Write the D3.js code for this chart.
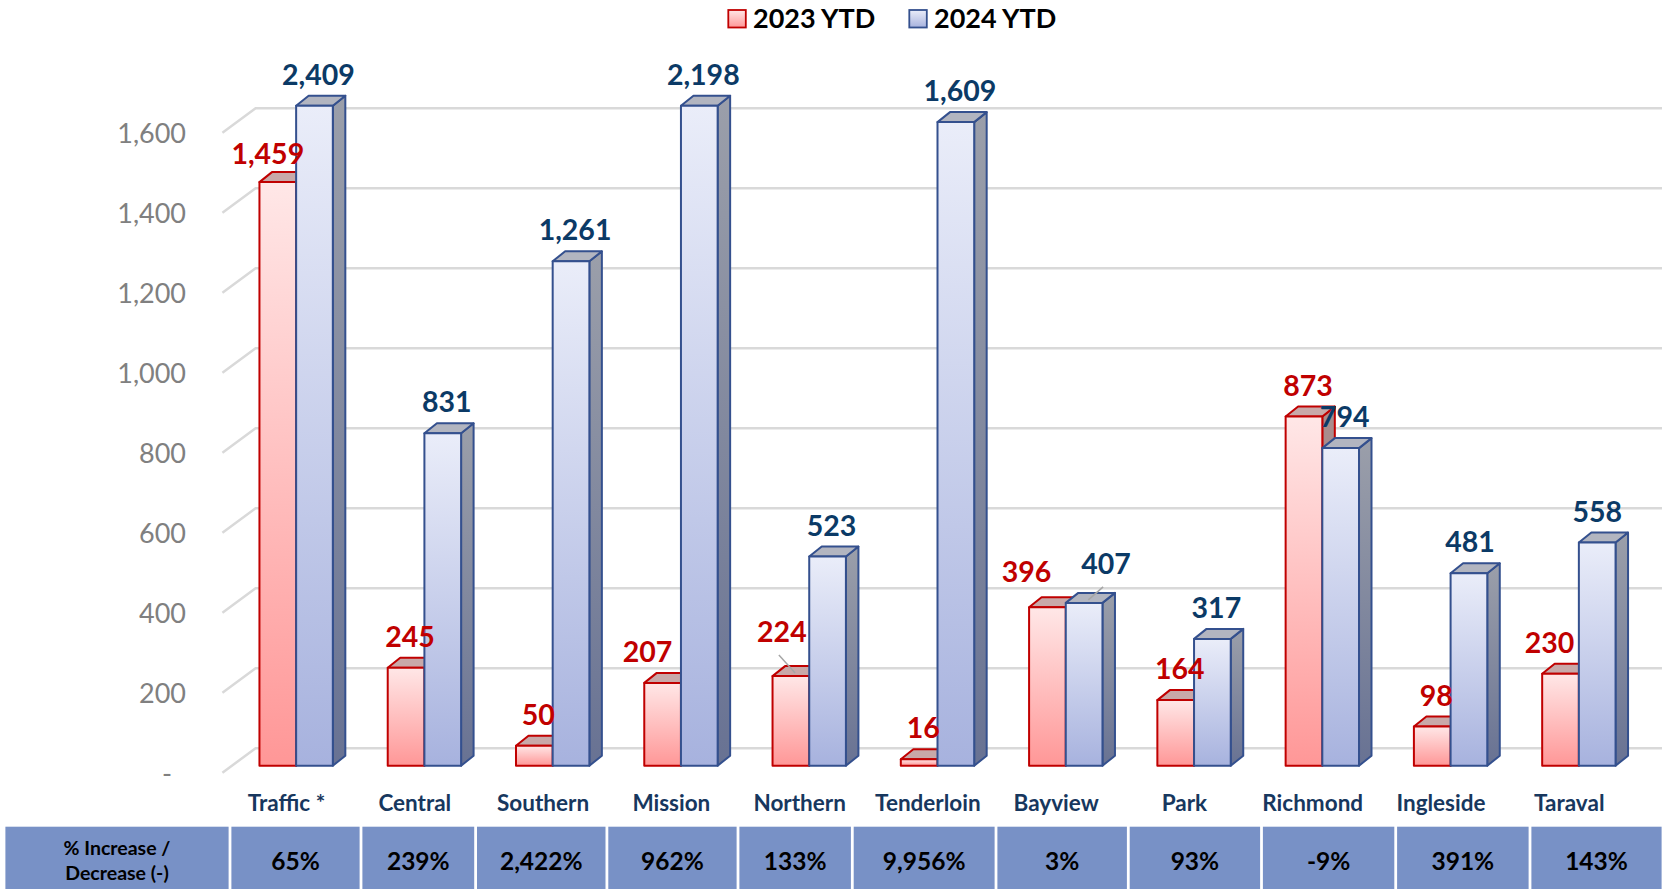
<!DOCTYPE html>
<html><head><meta charset="utf-8">
<script src="https://cdn.jsdelivr.net/npm/d3@7"></script>
<style>body{margin:0;background:#fff;} svg{display:block;}</style>
</head><body>
<svg id="c" width="1665" height="889"></svg>
<script>
// ---- data ----
const categories = ["Traffic *","Central","Southern","Mission","Northern","Tenderloin","Bayview","Park","Richmond","Ingleside","Taraval"];
const series = ["2023 YTD","2024 YTD"];
const values2023 = [1459,245,50,207,224,16,396,164,873,98,230];
const values2024 = [2409,831,1261,2198,523,1609,407,317,794,481,558];
const pctChange = ["65%","239%","2,422%","962%","133%","9,956%","3%","93%","-9%","391%","143%"];
const rowLabel = ["% Increase /","Decrease (-)"];
const yTicks = [0,200,400,600,800,1000,1200,1400,1600];
const yMax = 1650;

// ---- layout ----
const FONT = "Lato, 'Open Sans', 'Noto Sans', sans-serif";
const svg = d3.select("#c");
const x = d3.scaleBand().domain(categories).range([232,1643]).paddingInner(0.428).paddingOuter(0.214);
const xs = d3.scaleBand().domain(series).range([0, x.bandwidth()]);
const y = d3.scaleLinear().domain([0,yMax]).range([765.7,105.7]);
const depth = {dx:12.5, dy:-10};
const front = {dx:-9.6, dy:7};
const back = {dx:23.6, dy:-17.4};
const gridRight = 1662;

const seriesStyle = {
  "2023 YTD": {grad:"gRed", stroke:"#C00000", top:"#C8A9A9", side:"#A98C8C", label:"#C00000"},
  "2024 YTD": {grad:"gBlue", stroke:"#34508E", top:"#B2B5C0", side:"url(#gBlueSide)", label:"#0B3A66"}
};

const defs = svg.append("defs");
function grad(id, c1, c2){
  const g = defs.append("linearGradient").attr("id",id).attr("x1",0).attr("y1",0).attr("x2",0).attr("y2",1);
  g.append("stop").attr("offset","0%").attr("stop-color",c1);
  g.append("stop").attr("offset","100%").attr("stop-color",c2);
}
grad("gRed","#FFE7E7","#FF9797");
grad("gBlue","#EAEDF9","#A7B2DE");
grad("gBlueSide","#9B9FAA","#687293");

// ---- gridlines (back wall + floor diagonals) ----
const x0r = x.range()[0];
const gridG = svg.append("g");
gridG.selectAll("polyline").data(yTicks).join("polyline")
  .attr("points", v => {
    const yb = y(v)+back.dy;
    return `${x0r+front.dx},${y(v)+front.dy} ${x0r+back.dx},${yb} ${gridRight},${yb}`;
  })
  .attr("fill","none").attr("stroke","#D9D9D9").attr("stroke-width",2.5);

// ---- y axis ----
const yAxis = d3.axisLeft(y).tickValues(yTicks).tickSize(0).tickPadding(0)
  .tickFormat(v => v===0 ? "-" : d3.format(",")(v));
const ag = svg.append("g").attr("transform",`translate(186,${front.dy})`).call(yAxis);
ag.select(".domain").remove();
ag.attr("font-family",FONT).attr("font-size",27);
ag.selectAll("text").attr("fill","#808080").attr("dy","0.35em");
ag.selectAll(".tick").filter(d=>d===0).select("text").attr("dx",-14);

// ---- bars ----
const barData = categories.map((c,i)=>({cat:c, vals:[{s:series[0],v:values2023[i]},{s:series[1],v:values2024[i]}]}));
const bw = xs.bandwidth();
const barG = svg.append("g").attr("stroke-linejoin","round");
barData.forEach(d=>{
  d.vals.forEach(b=>{
    const st = seriesStyle[b.s];
    const x0 = x(d.cat)+xs(b.s), x1 = x0+bw;
    const yt = y(Math.min(b.v,yMax)), yb = y(0);
    const g = barG.append("g").attr("stroke",st.stroke).attr("stroke-width",2);
    g.append("polygon").attr("points",`${x1},${yt} ${x1+depth.dx},${yt+depth.dy} ${x1+depth.dx},${yb+depth.dy} ${x1},${yb}`).attr("fill",st.side);
    g.append("polygon").attr("points",`${x0},${yt} ${x1},${yt} ${x1+depth.dx},${yt+depth.dy} ${x0+depth.dx},${yt+depth.dy}`).attr("fill",st.top);
    g.append("rect").attr("x",x0).attr("y",yt).attr("width",bw).attr("height",yb-yt).attr("fill",`url(#${st.grad})`);
  });
});

// ---- data labels ----
const nudges = {
  "2023 YTD": {"Traffic *":[-14,3], "Mission":[-19,0], "Northern":[-13,-13], "Bayview":[-25,-4], "Taraval":[-15,0]},
  "2024 YTD": {"Bayview":[18,-8], "Ingleside":[-3,0], "Taraval":[-4,0]}
};
const leaders = {"2023 YTD":["Northern"], "2024 YTD":["Bayview"]};
const labG = svg.append("g").attr("font-family",FONT).attr("font-weight","bold").attr("font-size",28.5).attr("text-anchor","middle");
barData.forEach(d=>{
  d.vals.forEach(b=>{
    const st = seriesStyle[b.s];
    const x0 = x(d.cat)+xs(b.s);
    const yt = y(Math.min(b.v,yMax));
    const n = (nudges[b.s][d.cat]) || [0,0];
    const cx = x0+bw/2+4+n[0], by = yt-21+n[1];
    if (leaders[b.s].includes(d.cat)) {
      labG.append("line").attr("x1",cx-3).attr("y1",by+13).attr("x2",x0+bw/2+depth.dx/2-2).attr("y2",yt-3)
        .attr("stroke","#A6A6A6").attr("stroke-width",1.5);
    }
    labG.append("text").attr("x",cx).attr("y",by).attr("fill",st.label).text(d3.format(",")(b.v));
  });
});

// ---- category labels ----
svg.append("g").attr("font-family",FONT).attr("font-weight","bold").attr("font-size",22.5).attr("text-anchor","middle").attr("fill","#17375E")
  .selectAll("text").data(categories).join("text")
  .attr("x",c=>x(c)+x.bandwidth()/2+front.dx).attr("y",802.7).attr("dy","0.35em").text(c=>c);

// ---- legend ----
const legend = [{s:series[0],bx:728.3,tx:753},{s:series[1],bx:909.3,tx:934}];
const lg = svg.append("g");
legend.forEach(l=>{
  const st = seriesStyle[l.s];
  lg.append("rect").attr("x",l.bx).attr("y",10).attr("width",17.5).attr("height",17.5)
    .attr("fill",`url(#${st.grad})`).attr("stroke",st.stroke).attr("stroke-width",1.8);
  lg.append("text").attr("x",l.tx).attr("y",28).attr("font-family",FONT).attr("font-weight","bold").attr("font-size",27).attr("fill","#000").text(l.s);
});

// ---- table ----
const tableCols = [4,230,361,475.6,606.9,738,852.3,996,1128.3,1261.5,1395.7,1530,1663];
const tTop = 826.7, tBot = 889;
const tg = svg.append("g").attr("font-family",FONT).attr("font-weight","bold").attr("text-anchor","middle").attr("fill","#000");
const cells = [rowLabel].concat(pctChange);
cells.forEach((c,i)=>{
  const a = tableCols[i], b = tableCols[i+1];
  tg.append("rect").attr("x",a+1.4).attr("y",tTop).attr("width",b-a-2.8).attr("height",tBot-tTop).attr("fill","#7891C6");
  if (Array.isArray(c)) {
    c.forEach((line,k)=>tg.append("text").attr("x",(a+b)/2).attr("y",848.3+k*25).attr("dy","0.35em").attr("font-size",19.5).text(line));
  } else {
    tg.append("text").attr("x",(a+b)/2).attr("y",861.7).attr("dy","0.35em").attr("font-size",24.5).text(c);
  }
});
</script>
</body></html>
